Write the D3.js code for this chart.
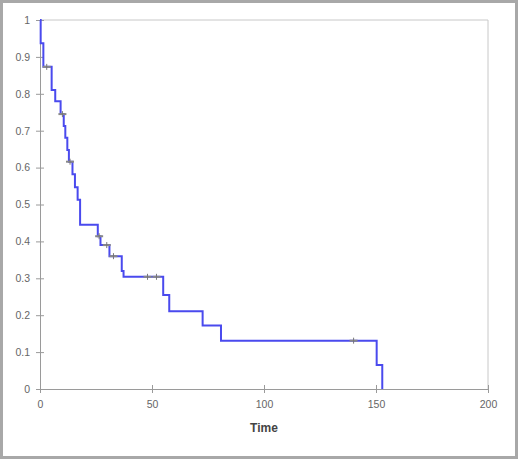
<!DOCTYPE html>
<html>
<head>
<meta charset="utf-8">
<script src="https://cdn.jsdelivr.net/npm/d3@7"></script>
<style>
  body { margin: 0; background: #fff; }
  svg { display: block; font-family: "Liberation Sans", Arial, sans-serif; }
  .axis path, .axis line { stroke: #9a9a9a; }
  .axis text { fill: #666; font-size: 10.5px; }
</style>
</head>
<body>
<svg width="520" height="460"></svg>
<script>
// step times (after each drop) and survival level reached
var stepTimes = [0, 0.3, 1.5, 5.2, 6.8, 9.2, 10.6, 11.3, 12.2, 12.9, 14.5, 15.6, 16.8, 17.9,
                 25.8, 27, 31, 36.5, 37.3, 55, 57.7, 72.6, 80.8, 150.3, 152.8];
var survival  = [1, 0.937, 0.873, 0.81, 0.78, 0.745, 0.713, 0.681, 0.648, 0.616, 0.582, 0.547, 0.513, 0.445,
                 0.414, 0.39, 0.36, 0.32, 0.304, 0.255, 0.211, 0.172, 0.131, 0.065, 0];
// censored observations
var censorTimes = [3, 10, 13.4, 26.4, 29.8, 32.8, 48, 52, 140];

var xTicks = [0, 50, 100, 150, 200];
var yTicks = [0, 0.1, 0.2, 0.3, 0.4, 0.5, 0.6, 0.7, 0.8, 0.9, 1];

var margin = { top: 20, right: 32, bottom: 71, left: 40 };
var width = 520 - margin.left - margin.right;
var height = 460 - margin.top - margin.bottom;

var svg = d3.select('svg');

// outer chart border
svg.append('rect')
    .attr('x', 1.5).attr('y', 1.5)
    .attr('width', 515).attr('height', 456)
    .attr('fill', 'none')
    .attr('stroke', '#a8a8a8')
    .attr('stroke-width', 3);

var g = svg.append('g')
    .attr('transform', 'translate(' + margin.left + ',' + margin.top + ')');

var x = d3.scaleLinear().domain([0, 200]).range([0, width]);
var y = d3.scaleLinear().domain([0, 1]).range([height, 0]);

// plot area frame (top / right)
g.append('path')
    .attr('d', 'M0,' + y(1) + 'H' + x(200) + 'V' + y(0))
    .attr('fill', 'none')
    .attr('stroke', '#c8c8c8');

var xAxis = d3.axisBottom(x)
    .tickValues(xTicks)
    .tickSize(4)
    .tickSizeOuter(0)
    .tickFormat(d3.format('d'));

var yAxis = d3.axisLeft(y)
    .tickValues(yTicks)
    .tickSize(4)
    .tickSizeOuter(0)
    .tickFormat(function(d) { return d === 0 || d === 1 ? d : d3.format('.1f')(d); });

var gx = g.append('g')
    .attr('class', 'x axis')
    .attr('transform', 'translate(0,' + height + ')')
    .call(xAxis);
gx.selectAll('.tick line').attr('y1', -4);
gx.selectAll('.tick text').attr('dy', '1.1em');

var gy = g.append('g')
    .attr('class', 'y axis')
    .call(yAxis);
gy.selectAll('.tick line').attr('x1', 4);
gy.selectAll('.tick text').attr('x', -10);

g.append('text')
    .attr('x', x(100))
    .attr('y', height + 43)
    .attr('text-anchor', 'middle')
    .attr('font-size', 12)
    .attr('font-weight', 'bold')
    .attr('fill', '#444')
    .text('Time');

// survival step curve
var pts = stepTimes.map(function(t, i) { return { t: t, s: survival[i] }; });
var line = d3.line()
    .x(function(d) { return x(d.t); })
    .y(function(d) { return y(d.s); })
    .curve(d3.curveStepAfter);

g.append('path')
    .datum(pts)
    .attr('fill', 'none')
    .attr('stroke', '#4a4aee')
    .attr('stroke-width', 2)
    .attr('d', line);

// censor marks on the curve
var bis = d3.bisector(function(d) { return d.t; }).right;
function survAt(t) { return pts[bis(pts, t) - 1].s; }

var cens = g.selectAll('.censor')
    .data(censorTimes)
    .enter().append('g')
    .attr('class', 'censor')
    .attr('transform', function(d) { return 'translate(' + x(d) + ',' + y(survAt(d)) + ')'; });
cens.append('line')
    .attr('x1', -4).attr('x2', 4)
    .attr('stroke', '#888').attr('stroke-width', 2);
cens.append('line')
    .attr('y1', -3).attr('y2', 3)
    .attr('stroke', '#777').attr('stroke-width', 1);
</script>
</body>
</html>
